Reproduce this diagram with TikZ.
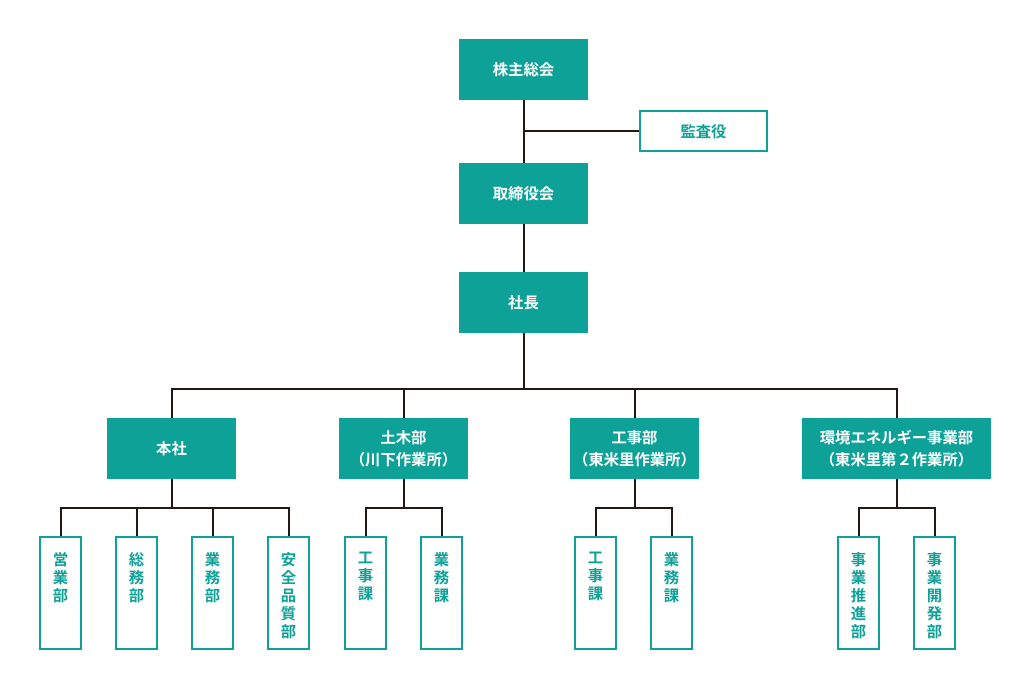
\documentclass[tikz,border=0pt]{standalone}
\usepackage{fontspec}
\newfontfamily\jp{Noto Sans CJK JP}[BoldFont={Noto Sans CJK JP Bold}]
\usetikzlibrary{positioning}
\definecolor{OrgTeal}{HTML}{0EA197}
\definecolor{LineBlack}{HTML}{231815}
\tikzset{
    topbox/.style={fill=OrgTeal, text=white, align=center, minimum width=96.75pt, minimum height=45.75pt, inner sep=0pt, font=\jp\bfseries\fontsize{11.5pt}{16.5pt}\selectfont},
    auditbox/.style={draw=OrgTeal, line width=1.5pt, fill=white, text=OrgTeal, minimum width=95.25pt, minimum height=30pt, inner sep=0pt, font=\jp\bfseries\fontsize{11.5pt}{16.5pt}\selectfont},
    unittext/.style={anchor=north, align=center, inner sep=0pt, yshift=-12pt, text=OrgTeal, font=\jp\bfseries\fontsize{11.5pt}{13.5pt}\selectfont},
    unit/.style={draw=OrgTeal, line width=1.5pt, fill=white, anchor=north, minimum width=30.75pt, minimum height=84pt, inner sep=0pt, label={[unittext]north:#1}},
    conn/.style={draw=LineBlack, line width=1.5pt}
}
\begin{document}
\begin{tikzpicture}[x=0.75pt, y=-0.75pt]
    \useasboundingbox (0,0) rectangle (1032,691);

    % Top of the chart
    \node[topbox] (kabunushi) at (523.5,69.5) {株主総会};
    \node[auditbox] (kansa) at (703.5,131.5) {監査役};
    \node[topbox] (torishimari) at (523.5,193.5) {取締役会};
    \node[topbox] (shacho) at (523.5,302.5) {社長};

    \coordinate (kansaj) at (523.5,131.5);
    \draw[conn] (kabunushi) -- (torishimari);
    \draw[conn] (kansaj) -- (kansa);
    \draw[conn] (torishimari) -- (shacho);

    % Divisions
    \node[topbox] (honsha) at (171.5,448.5) {本社};
    \node[topbox] (doboku) at (403.5,448.5) {土木部\\（川下作業所）};
    \node[topbox] (koji) at (634.5,448.5) {工事部\\（東米里作業所）};
    \node[topbox, minimum width=141.75pt] (kankyo) at (896.5,448.5) {環境エネルギー事業部\\（東米里第２作業所）};

    \coordinate (bus) at (523.5,389);
    \draw[conn] (shacho) -- (bus);
    \foreach \d in {honsha,doboku,koji,kankyo}
        \draw[conn] (bus) -| (\d);

    % Sections
    \node[unit={営\\業\\部}] (eigyo) at (60.5,536) {};
    \node[unit={総\\務\\部}] (somu) at (136.5,536) {};
    \node[unit={業\\務\\部}] (gyomu) at (212.5,536) {};
    \node[unit={安\\全\\品\\質\\部}] (anzen) at (288.5,536) {};

    \node[unit={工\\事\\課}] (dkoji) at (365.5,536) {};
    \node[unit={業\\務\\課}] (dgyomu) at (441.5,536) {};

    \node[unit={工\\事\\課}] (kkoji) at (595.5,536) {};
    \node[unit={業\\務\\課}] (kgyomu) at (671.5,536) {};

    \node[unit={事\\業\\推\\進\\部}] (suishin) at (858.5,536) {};
    \node[unit={事\\業\\開\\発\\部}] (kaihatsu) at (934.5,536) {};

    \coordinate (hbus) at (171.5,508);
    \coordinate (dbus) at (403.5,508);
    \coordinate (kbus) at (634.5,508);
    \coordinate (ebus) at (896.5,508);
    \draw[conn] (honsha) -- (hbus);
    \draw[conn] (doboku) -- (dbus);
    \draw[conn] (koji) -- (kbus);
    \draw[conn] (kankyo) -- (ebus);
    \foreach \u in {eigyo,somu,gyomu,anzen}
        \draw[conn] (hbus) -| (\u);
    \foreach \u in {dkoji,dgyomu}
        \draw[conn] (dbus) -| (\u);
    \foreach \u in {kkoji,kgyomu}
        \draw[conn] (kbus) -| (\u);
    \foreach \u in {suishin,kaihatsu}
        \draw[conn] (ebus) -| (\u);
\end{tikzpicture}
\end{document}
